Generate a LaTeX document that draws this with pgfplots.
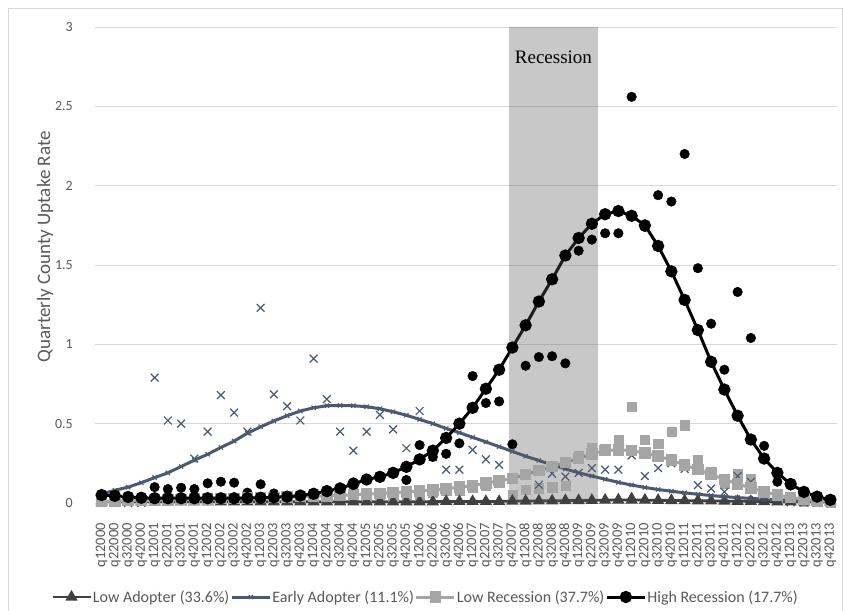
\documentclass[border=0pt]{standalone}
\usepackage{pgfplots}
\pgfplotsset{compat=1.18}
\usepackage{pgfplotstable}
\usepackage{fontspec}
\setmainfont{Carlito}
\newfontfamily\timesfont{Liberation Serif}
\definecolor{slate}{HTML}{4A5A72}
\definecolor{lgrey}{HTML}{A5A5A5}
\definecolor{dgrey}{HTML}{404040}
\definecolor{txt}{HTML}{595959}
\definecolor{gridc}{HTML}{D9D9D9}

% x: quarter index (0 = q12000); la/ea/lr/hr = fitted curves, *r = quarterly observations
\pgfplotstableread{
x  la    lar   ea    ear   lr    lrr   hr    hrr
0  0.008 0.008 0.057 0.000 0.010 0.015 0.050 0.050
1  0.008 0.008 0.080 0.000 0.012 0.015 0.045 0.045
2  0.008 0.008 0.100 0.000 0.014 0.015 0.038 0.030
3  0.008 0.008 0.128 0.000 0.016 0.015 0.033 0.030
4  0.008 0.008 0.160 0.790 0.018 0.020 0.030 0.100
5  0.008 0.008 0.190 0.520 0.020 0.020 0.030 0.088
6  0.008 0.008 0.230 0.500 0.022 0.020 0.030 0.096
7  0.008 0.008 0.270 0.280 0.024 0.025 0.030 0.088
8  0.008 0.008 0.307 0.450 0.026 0.025 0.030 0.124
9  0.008 0.008 0.350 0.680 0.028 0.025 0.030 0.134
10 0.008 0.008 0.390 0.570 0.030 0.030 0.030 0.128
11 0.008 0.008 0.440 0.450 0.032 0.030 0.031 0.065
12 0.008 0.008 0.480 1.230 0.034 0.030 0.033 0.118
13 0.008 0.008 0.517 0.685 0.036 0.030 0.036 0.060
14 0.008 0.008 0.550 0.610 0.038 0.035 0.040 0.036
15 0.008 0.008 0.580 0.520 0.040 0.035 0.047 0.030
16 0.008 0.008 0.600 0.910 0.042 0.035 0.058 0.050
17 0.008 0.008 0.613 0.655 0.045 0.035 0.075 0.035
18 0.008 0.008 0.615 0.450 0.048 0.060 0.092 0.035
19 0.008 0.008 0.613 0.330 0.052 0.057 0.120 0.130
20 0.008 0.008 0.607 0.450 0.056 0.040 0.148 0.150
21 0.008 0.008 0.594 0.555 0.060 0.050 0.165 0.160
22 0.008 0.008 0.575 0.464 0.065 0.040 0.190 0.190
23 0.008 0.008 0.553 0.345 0.070 0.050 0.228 0.145
24 0.008 0.008 0.527 0.580 0.076 0.050 0.275 0.365
25 0.008 0.008 0.500 0.290 0.083 0.065 0.330 0.290
26 0.010 0.010 0.470 0.210 0.090 0.076 0.410 0.310
27 0.010 0.010 0.443 0.210 0.100 0.080 0.500 0.376
28 0.010 0.010 0.414 0.335 0.110 0.100 0.600 0.800
29 0.010 0.010 0.385 0.275 0.125 0.107 0.720 0.630
30 0.010 0.010 0.355 0.240 0.140 0.128 0.840 0.640
31 0.012 0.010 0.325 0.155 0.155 0.050 0.980 0.370
32 0.012 0.010 0.295 0.176 0.180 0.082 1.120 0.865
33 0.013 0.010 0.268 0.115 0.205 0.093 1.270 0.920
34 0.014 0.012 0.240 0.185 0.230 0.100 1.410 0.925
35 0.015 0.012 0.215 0.166 0.255 0.107 1.560 0.880
36 0.016 0.020 0.190 0.190 0.280 0.300 1.670 1.590
37 0.017 0.020 0.170 0.220 0.310 0.345 1.760 1.660
38 0.018 0.025 0.150 0.210 0.330 0.340 1.820 1.700
39 0.019 0.030 0.130 0.210 0.335 0.400 1.840 1.700
40 0.019 0.040 0.113 0.300 0.330 0.607 1.810 2.560
41 0.018 0.030 0.098 0.170 0.315 0.400 1.750 1.740
42 0.017 0.025 0.085 0.220 0.295 0.376 1.620 1.940
43 0.016 0.020 0.074 0.250 0.270 0.450 1.460 1.900
44 0.015 0.015 0.064 0.215 0.240 0.490 1.280 2.200
45 0.014 0.015 0.055 0.113 0.210 0.275 1.090 1.480
46 0.013 0.012 0.047 0.090 0.180 0.197 0.890 1.130
47 0.012 0.012 0.040 0.070 0.150 0.124 0.715 0.840
48 0.011 0.010 0.034 0.170 0.120 0.187 0.550 1.330
49 0.010 0.010 0.029 0.134 0.095 0.155 0.400 1.040
50 0.009 0.010 0.025 0.050 0.070 0.060 0.280 0.360
51 0.008 0.008 0.021 0.030 0.050 0.030 0.190 0.134
52 0.008 0.008 0.018 0.005 0.035 0.020 0.120 0.110
53 0.008 0.008 0.015 0.005 0.025 0.010 0.070 0.060
54 0.008 0.008 0.013 0.005 0.015 0.010 0.040 0.030
55 0.008 0.008 0.011 0.005 0.010 0.005 0.020 0.020
}\data

\begin{document}
\begin{tikzpicture}
\useasboundingbox (-95bp,-108bp) rectangle (748bp,503bp);
\draw[gridc, line width=0.8bp] (-87bp,-120bp) -- (-87bp,495bp) -- (747bp,495bp) -- (747bp,-120bp);
\begin{axis}[
  scale only axis, width=742bp, height=476bp,
  at={(0,0)}, anchor=south west,
  xmin=-0.5, xmax=55.5, ymin=0, ymax=3,
  axis line style={draw=none},
  major tick length=0pt,
  ymajorgrids, grid style={gridc, line width=0.8bp},
  ytick={0,0.5,1,1.5,2,2.5,3},
  yticklabels={0,0.5,1,1.5,2,2.5,3},
  xtick={0,1,...,55},
  xticklabels={q12000,q22000,q32000,q42000,q12001,q22001,q32001,q42001,q12002,q22002,q32002,q42002,q12003,q22003,q32003,q42003,q12004,q22004,q32004,q42004,q12005,q22005,q32005,q42005,q12006,q22006,q32006,q42006,q12007,q22007,q32007,q42007,q12008,q22008,q32008,q42008,q12009,q22009,q32009,q42009,q12010,q22010,q32010,q42010,q12011,q22011,q32011,q42011,q12012,q22012,q32012,q42012,q12013,q22013,q32013,q42013},
  /pgf/number format/assume math mode=true,
  xticklabel style={rotate=90, anchor=east, font=\fontsize{14.5bp}{14.5bp}\selectfont, text=txt, inner sep=0pt},
  yticklabel style={font=\fontsize{14bp}{14bp}\selectfont, text=txt, inner sep=0pt},
  xticklabel shift=20bp, yticklabel shift=22bp,
  ylabel={Quarterly County Uptake Rate},
  ylabel style={at={(axis description cs:-0.0674,0.538)}, anchor=center, font=\fontsize{19bp}{19bp}\selectfont, text=txt},
  clip=false,
  legend columns=4,
  legend style={at={(axis description cs:0.4447,-0.1975)}, anchor=center, draw=none, fill=none,
    font=\fontsize{16bp}{16bp}\selectfont, text=txt,
    /tikz/every even column/.append style={column sep=0bp},
    nodes={inner xsep=1bp, inner ysep=1bp}},
  legend image code/.code={\draw[mark repeat=2,mark phase=2] plot coordinates {(0bp,0bp)(19bp,0bp)(38bp,0bp)};},
]
% observations
\addplot[only marks, mark=triangle*, mark size=4.5bp, dgrey, forget plot] table[x=x,y=lar]{\data};
\addplot[only marks, mark=square*, mark size=4.6bp, lgrey, forget plot] table[x=x,y=lrr]{\data};
\addplot[only marks, mark=x, mark size=5.5bp, slate, line width=1.2bp, forget plot] table[x=x,y=ear]{\data};
\addplot[only marks, mark=*, mark size=4.8bp, black, forget plot] table[x=x,y=hrr]{\data};
% fitted curves
\addplot[dgrey, line width=2.8bp, mark=triangle*, mark size=4.3bp, mark options={solid}] table[x=x,y=la]{\data};
\addlegendentry{Low Adopter (33.6\%)}
\addplot[slate, line width=3bp, mark=x, mark size=3bp, mark options={line width=1.1bp}] table[x=x,y=ea]{\data};
\addlegendentry{Early Adopter (11.1\%)}
\addplot[lgrey, line width=3bp, mark=square*, mark size=4.2bp] table[x=x,y=lr]{\data};
\addlegendentry{Low Recession (37.7\%)}
\addplot[black, line width=3bp, mark=*, mark size=4.6bp] table[x=x,y=hr]{\data};
\addlegendentry{High Recession (17.7\%)}
% recession band
\addplot[draw=none, fill=black!65, fill opacity=0.33, forget plot] coordinates {(30.75,0) (30.75,3) (37.45,3) (37.45,0)} \closedcycle;
\node[font=\timesfont\fontsize{19bp}{19bp}\selectfont, text=black] at (axis cs:34.1,2.81) {Recession};
\end{axis}
\end{tikzpicture}
\end{document}
